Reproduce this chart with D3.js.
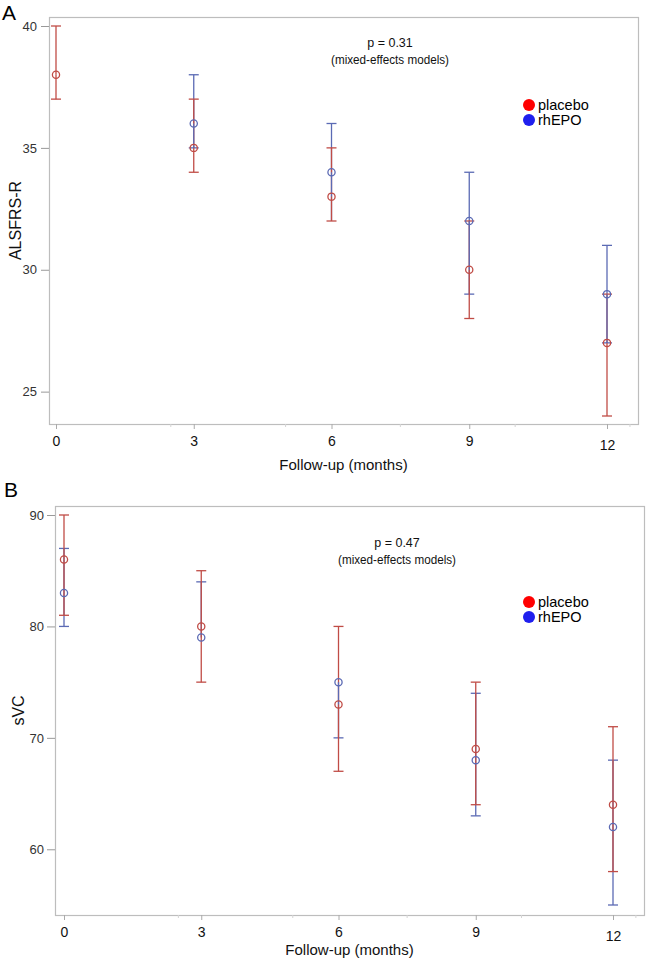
<!DOCTYPE html>
<html>
<head>
<meta charset="utf-8">
<script src="https://cdnjs.cloudflare.com/ajax/libs/d3/7.8.5/d3.min.js"></script>
<style>
  html, body { margin: 0; padding: 0; background: #fff; }
  svg { display: block; }
</style>
</head>
<body>
<svg id="chart" width="646" height="961"></svg>
<script>
// ---------------- DATA ----------------
const months = [0, 3, 6, 9, 12];
const monthTickLabels = ["0", "3", "6", "9", "12"];
const minorMonthTicks = [2.5, 5, 7.5, 10, 12.5];

// Panel A: ALSFRS-R
const alsPlaceboMean  = [38, 35, 33, 30, 27];
const alsPlaceboLower = [37, 34, 32, 28, 24];
const alsPlaceboUpper = [40, 37, 35, 32, 29];
const alsEpoMean      = [38, 36, 34, 32, 29];
const alsEpoLower     = [37, 35, 32, 29, 27];
const alsEpoUpper     = [40, 38, 36, 34, 31];
const alsYTicks = [25, 30, 35, 40];

// Panel B: sVC
const svcPlaceboMean  = [86, 80, 73, 69, 64];
const svcPlaceboLower = [81, 75, 67, 64, 58];
const svcPlaceboUpper = [90, 85, 80, 75, 71];
const svcEpoMean      = [83, 79, 75, 68, 62];
const svcEpoLower     = [80, 75, 70, 63, 55];
const svcEpoUpper     = [87, 84, 80, 74, 68];
const svcYTicks = [60, 70, 80, 90];

const seriesNames = ["placebo", "rhEPO"];
const pValues = ["p = 0.31", "p = 0.47"];
const modelNote = "(mixed-effects models)";
const xTitle = "Follow-up (months)";

// ---------------- STYLE ----------------
const FONT = "'Liberation Sans', Arial, Helvetica, sans-serif";
const RED_BAR = "#c04c46";
const BLUE_BAR = "#5b6ab4";
const RED_LEG = "#ff0000";
const BLUE_LEG = "#1f1fee";
const FRAME = "#bdbdbd";

const svg = d3.select("#chart");
svg.append("rect").attr("width", 646).attr("height", 961).attr("fill", "#fff");

const zip = (m, lo, hi, mean) => m.map((x, i) => ({ x, lo: lo[i], hi: hi[i], mean: mean[i] }));

const panels = [
  {
    letter: "A", yTitle: "ALSFRS-R", yTicks: alsYTicks,
    frame: { l: 49, t: 17, r: 638, b: 424 },
    xRange: [56, 607], yDomain: [40, 24], yRange: [26, 416],
    placebo: zip(months, alsPlaceboLower, alsPlaceboUpper, alsPlaceboMean),
    epo: zip(months, alsEpoLower, alsEpoUpper, alsEpoMean),
    p: pValues[0], pPos: [390, 43], legPos: [529, 105],
    letterPos: [2, 20], yTitleX: 15, labelGap: 12, xTitleDy: 46
  },
  {
    letter: "B", yTitle: "sVC", yTicks: svcYTicks,
    frame: { l: 55, t: 506, r: 644, b: 915 },
    xRange: [64, 613], yDomain: [90, 55], yRange: [515, 905],
    placebo: zip(months, svcPlaceboLower, svcPlaceboUpper, svcPlaceboMean),
    epo: zip(months, svcEpoLower, svcEpoUpper, svcEpoMean),
    p: pValues[1], pPos: [397, 543], legPos: [529, 602],
    letterPos: [4, 497], yTitleX: 18, labelGap: 11, xTitleDy: 40
  }
];

panels.forEach(P => {
  const g = svg.append("g");
  const f = P.frame;
  const x = d3.scaleLinear().domain([0, 12]).range(P.xRange);
  const y = d3.scaleLinear().domain(P.yDomain).range(P.yRange);

  // frame
  g.append("rect")
    .attr("x", f.l + 0.5).attr("y", f.t + 0.5)
    .attr("width", f.r - f.l).attr("height", f.b - f.t)
    .attr("fill", "none").attr("stroke", FRAME).attr("stroke-width", 1.2);

  // y axis ticks
  const yAxis = d3.axisLeft(y).tickValues(P.yTicks).tickSize(8).tickPadding(P.labelGap - 8);
  const ya = g.append("g").attr("transform", `translate(${f.l},0)`).call(yAxis);
  ya.select(".domain").remove();
  ya.selectAll(".tick line").attr("stroke", "#999").attr("stroke-width", 1);
  ya.selectAll(".tick text").attr("font-family", FONT).attr("font-size", 13).attr("fill", "#333");

  // x axis minor ticks (faint)
  g.append("g").selectAll("line").data(minorMonthTicks).join("line")
    .attr("x1", d => x(d)).attr("x2", d => x(d))
    .attr("y1", f.b).attr("y2", f.b + 3)
    .attr("stroke", "#d4d4d4").attr("stroke-width", 1);

  // x axis major ticks
  const xAxis = d3.axisBottom(x).tickValues(months).tickSize(5).tickPadding(6)
    .tickFormat((d, i) => monthTickLabels[i]);
  const xa = g.append("g").attr("transform", `translate(0,${f.b})`).call(xAxis);
  xa.select(".domain").remove();
  xa.selectAll(".tick line").attr("stroke", "#aaa").attr("stroke-width", 1);
  xa.selectAll(".tick text").attr("font-family", FONT).attr("font-size", 14).attr("fill", "#111")
    .attr("dy", (d) => d === 12 ? "1.05em" : "0.8em");

  // axis titles
  g.append("text").attr("x", (f.l + f.r) / 2).attr("y", f.b + P.xTitleDy)
    .attr("text-anchor", "middle").attr("font-family", FONT).attr("font-size", 15).attr("fill", "#111")
    .text(xTitle);
  g.append("text")
    .attr("transform", `translate(${P.yTitleX},${(f.t + f.b) / 2}) rotate(-90)`)
    .attr("text-anchor", "middle").attr("dominant-baseline", "central")
    .attr("font-family", FONT).attr("font-size", 16).attr("fill", "#111")
    .text(P.yTitle);

  // panel letter
  g.append("text").attr("x", P.letterPos[0]).attr("y", P.letterPos[1])
    .attr("font-family", FONT).attr("font-size", 21).attr("fill", "#000").text(P.letter);

  // annotation
  g.append("text").attr("x", P.pPos[0]).attr("y", P.pPos[1]).attr("dominant-baseline", "central")
    .attr("text-anchor", "middle").attr("font-family", FONT).attr("font-size", 12.5).attr("fill", "#111")
    .text(P.p);
  g.append("text").attr("x", P.pPos[0]).attr("y", P.pPos[1] + 17).attr("dominant-baseline", "central")
    .attr("text-anchor", "middle").attr("font-family", FONT).attr("font-size", 12).attr("fill", "#111")
    .attr("textLength", 118).attr("lengthAdjust", "spacingAndGlyphs")
    .text(modelNote);

  // legend
  const leg = g.append("g");
  [RED_LEG, BLUE_LEG].forEach((c, i) => {
    leg.append("circle").attr("cx", P.legPos[0]).attr("cy", P.legPos[1] + i * 15)
      .attr("r", 6).attr("fill", c);
    leg.append("text").attr("x", P.legPos[0] + 9).attr("y", P.legPos[1] + i * 15)
      .attr("dominant-baseline", "central").attr("font-family", FONT).attr("font-size", 14.5)
      .attr("fill", "#000").text(seriesNames[i]);
  });

  // error bars, drawn as halves in order: blue-upper, red-upper, blue-lower, red-lower.
  // Blue pieces that are entirely hidden under later red pieces are skipped (avoids AA tinting).
  const capW = 5;
  const within = (a, b, lo, hi) => Math.min(a, b) >= lo && Math.max(a, b) <= hi;
  const drawHalf = (data, color, key, keep) => {
    const hg = g.append("g").attr("stroke", color).attr("stroke-width", 1.3).attr("fill", "none");
    hg.selectAll("line.v").data(data.filter((d, i) => keep(d, i, "v"))).join("line").attr("class", "v")
      .attr("x1", d => x(d.x)).attr("x2", d => x(d.x))
      .attr("y1", d => y(d.mean)).attr("y2", d => y(d[key]));
    hg.selectAll("line.c").data(data.filter((d, i) => keep(d, i, "c"))).join("line").attr("class", "c")
      .attr("x1", d => x(d.x) - capW).attr("x2", d => x(d.x) + capW)
      .attr("y1", d => y(d[key])).attr("y2", d => y(d[key]));
  };
  const all = () => true;
  const red = P.placebo;
  drawHalf(P.epo, BLUE_BAR, "hi", (d, i, t) => {
    const r = red[i];
    if (t === "c") return d.hi !== r.hi && d.hi !== r.lo;
    return !(within(d.mean, d.hi, r.mean, r.hi) || within(d.mean, d.hi, r.lo, r.mean));
  });
  drawHalf(red, RED_BAR, "hi", all);
  drawHalf(P.epo, BLUE_BAR, "lo", (d, i, t) => {
    const r = red[i];
    if (t === "c") return d.lo !== r.lo;
    return !within(d.lo, d.mean, r.lo, r.mean);
  });
  drawHalf(red, RED_BAR, "lo", all);

  // markers (hollow circles); a blue marker exactly under a red one is not drawn
  const epoVisible = P.epo.filter((d, i) => d.mean !== red[i].mean);
  [[epoVisible, BLUE_BAR], [red, RED_BAR]].forEach(([data, color]) => {
    g.append("g").selectAll("circle").data(data).join("circle")
      .attr("cx", d => x(d.x)).attr("cy", d => y(d.mean)).attr("r", 3.6)
      .attr("fill", "none").attr("stroke", color).attr("stroke-width", 1.3);
  });
});
</script>
</body>
</html>
